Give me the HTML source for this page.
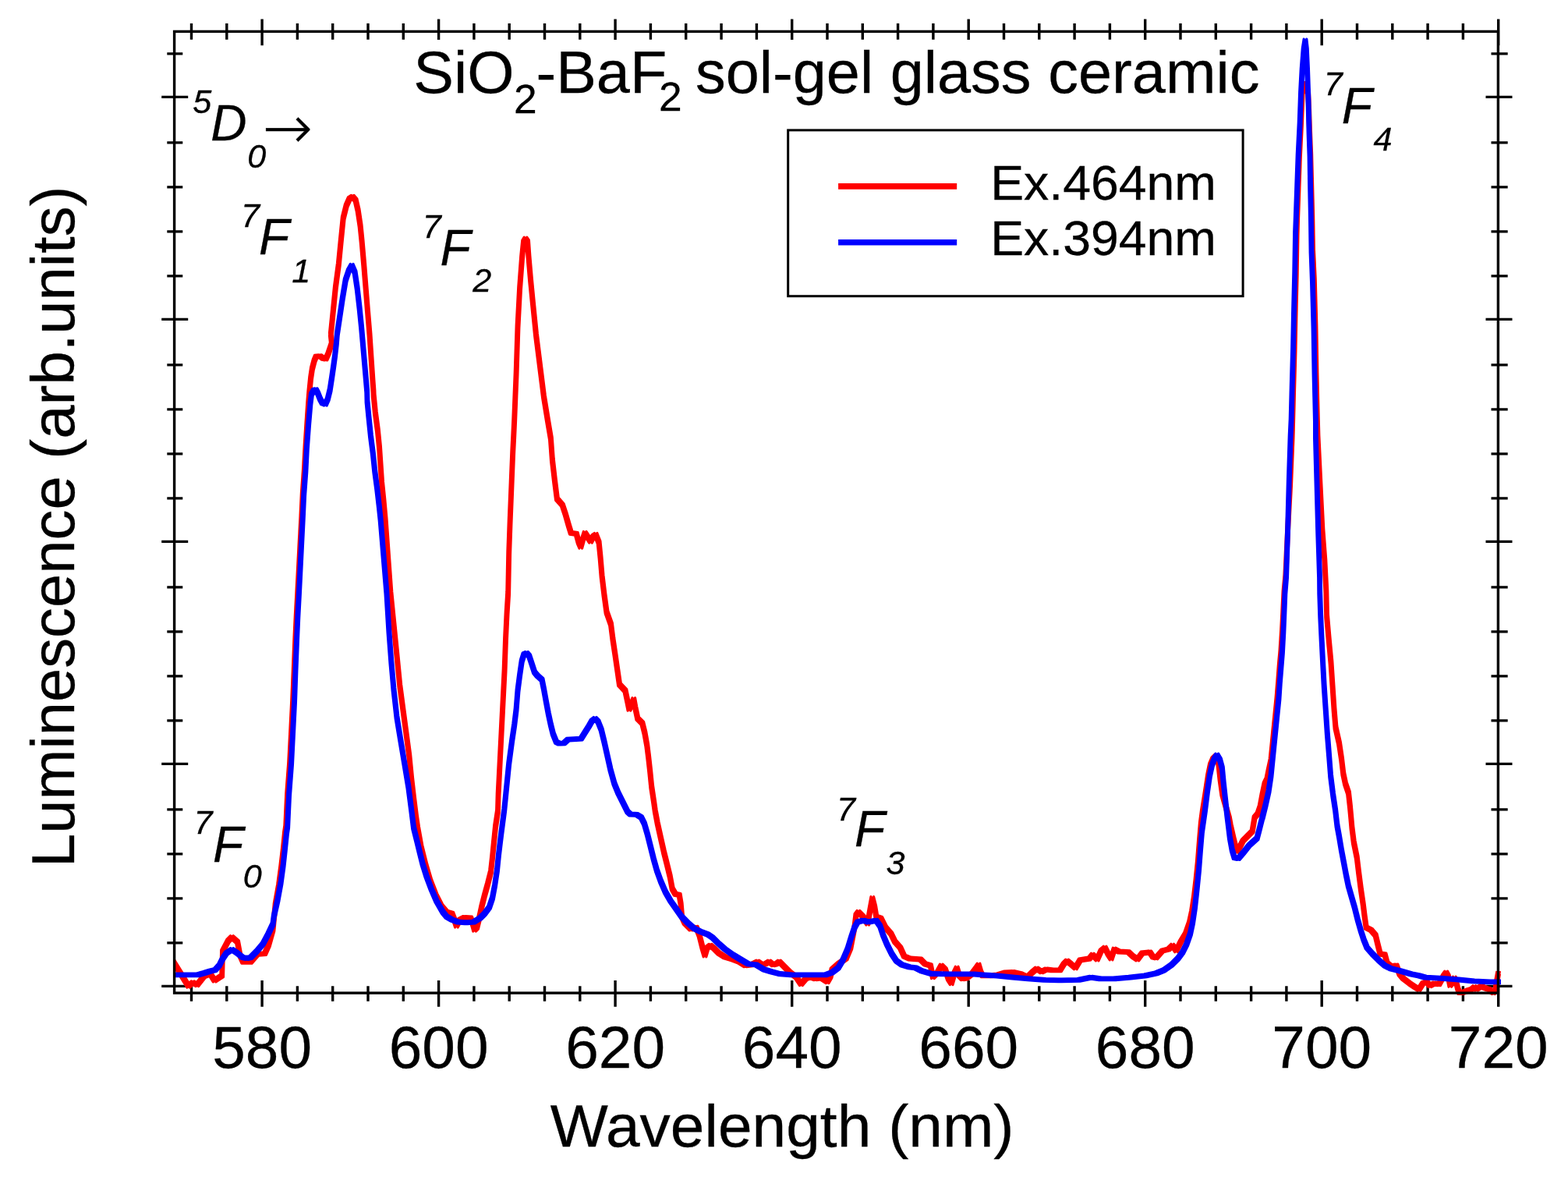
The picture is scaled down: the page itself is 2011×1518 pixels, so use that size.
<!DOCTYPE html>
<html lang="en"><head><meta charset="utf-8"><title>Luminescence spectra</title>
<style>html,body{margin:0;padding:0;background:#fff}body{width:2011px;height:1518px;overflow:hidden}svg{display:block}text{font-family:"Liberation Sans",sans-serif;fill:#000;stroke:#000;stroke-width:0.3px}.it{font-style:italic}.sym{font-family:"DejaVu Sans Light","DejaVu Sans","Liberation Sans",sans-serif;font-weight:200;font-style:normal;stroke-width:0.5px}</style></head><body>
<svg width="2011" height="1518" viewBox="0 0 2011 1518">
<rect x="0" y="0" width="2011" height="1518" fill="#fff"/>
<defs><clipPath id="clip"><rect x="222.5" y="40" width="1702.5" height="1236.7"/></clipPath></defs>
<path d="M245.5,29.9 V50.8 M245.5,1264.2 V1283.8 M290.8,29.9 V50.8 M290.8,1264.2 V1283.8 M336.1,24.5 V58.2 M336.1,1257.0 V1290.7 M381.4,29.9 V50.8 M381.4,1264.2 V1283.8 M426.7,29.9 V50.8 M426.7,1264.2 V1283.8 M472.0,29.9 V50.8 M472.0,1264.2 V1283.8 M517.3,29.9 V50.8 M517.3,1264.2 V1283.8 M562.6,24.5 V58.2 M562.6,1257.0 V1290.7 M607.9,29.9 V50.8 M607.9,1264.2 V1283.8 M653.2,29.9 V50.8 M653.2,1264.2 V1283.8 M698.5,29.9 V50.8 M698.5,1264.2 V1283.8 M743.8,29.9 V50.8 M743.8,1264.2 V1283.8 M789.1,24.5 V58.2 M789.1,1257.0 V1290.7 M834.4,29.9 V50.8 M834.4,1264.2 V1283.8 M879.7,29.9 V50.8 M879.7,1264.2 V1283.8 M925.1,29.9 V50.8 M925.1,1264.2 V1283.8 M970.4,29.9 V50.8 M970.4,1264.2 V1283.8 M1015.7,24.5 V58.2 M1015.7,1257.0 V1290.7 M1061.0,29.9 V50.8 M1061.0,1264.2 V1283.8 M1106.3,29.9 V50.8 M1106.3,1264.2 V1283.8 M1151.6,29.9 V50.8 M1151.6,1264.2 V1283.8 M1196.9,29.9 V50.8 M1196.9,1264.2 V1283.8 M1242.2,24.5 V58.2 M1242.2,1257.0 V1290.7 M1287.5,29.9 V50.8 M1287.5,1264.2 V1283.8 M1332.8,29.9 V50.8 M1332.8,1264.2 V1283.8 M1378.1,29.9 V50.8 M1378.1,1264.2 V1283.8 M1423.4,29.9 V50.8 M1423.4,1264.2 V1283.8 M1468.7,24.5 V58.2 M1468.7,1257.0 V1290.7 M1514.0,29.9 V50.8 M1514.0,1264.2 V1283.8 M1559.3,29.9 V50.8 M1559.3,1264.2 V1283.8 M1604.6,29.9 V50.8 M1604.6,1264.2 V1283.8 M1649.9,29.9 V50.8 M1649.9,1264.2 V1283.8 M1695.2,24.5 V58.2 M1695.2,1257.0 V1290.7 M1740.5,29.9 V50.8 M1740.5,1264.2 V1283.8 M1785.8,29.9 V50.8 M1785.8,1264.2 V1283.8 M1831.1,29.9 V50.8 M1831.1,1264.2 V1283.8 M1876.4,29.9 V50.8 M1876.4,1264.2 V1283.8 M1921.7,24.5 V58.2 M1921.7,1257.0 V1290.7 M207.2,1264.4 H241.2 M1905.5,1264.4 H1939.5 M214.3,1208.9 H234.3 M1912.5,1208.9 H1933.7 M214.3,1151.9 H234.3 M1912.5,1151.9 H1933.7 M214.3,1094.9 H234.3 M1912.5,1094.9 H1933.7 M214.3,1037.9 H234.3 M1912.5,1037.9 H1933.7 M207.2,979.4 H241.2 M1905.5,979.4 H1939.5 M214.3,923.9 H234.3 M1912.5,923.9 H1933.7 M214.3,866.9 H234.3 M1912.5,866.9 H1933.7 M214.3,809.9 H234.3 M1912.5,809.9 H1933.7 M214.3,752.9 H234.3 M1912.5,752.9 H1933.7 M207.2,694.4 H241.2 M1905.5,694.4 H1939.5 M214.3,638.9 H234.3 M1912.5,638.9 H1933.7 M214.3,581.9 H234.3 M1912.5,581.9 H1933.7 M214.3,524.9 H234.3 M1912.5,524.9 H1933.7 M214.3,467.9 H234.3 M1912.5,467.9 H1933.7 M207.2,409.4 H241.2 M1905.5,409.4 H1939.5 M214.3,353.9 H234.3 M1912.5,353.9 H1933.7 M214.3,296.9 H234.3 M1912.5,296.9 H1933.7 M214.3,239.9 H234.3 M1912.5,239.9 H1933.7 M214.3,182.9 H234.3 M1912.5,182.9 H1933.7 M207.2,124.4 H241.2 M1905.5,124.4 H1939.5 M214.3,68.9 H234.3 M1912.5,68.9 H1933.7" stroke="#000" stroke-width="3.4" fill="none"/>
<rect x="526" y="51" width="1094" height="98" fill="#fff"/>
<g clip-path="url(#clip)" fill="none" stroke-linejoin="round" stroke-linecap="square" stroke-width="3.2">
<path stroke="#ff0000" d="M221.8,1232.5 225.4,1238.1 241.7,1264.3 247.3,1259.6 252.9,1262.7 261.6,1251.6 269.6,1248.4 275.1,1257.2 284.7,1250.8 285.5,1219.8 292.6,1206.3 297.4,1201.5 304.6,1207.8 307.8,1224.6 311.7,1233.3 321.3,1233.3 330.0,1223.4 339.6,1222.6 344.4,1211.8 350.0,1191.9 353.2,1159.5 357.5,1135.6 360.7,1111.7 363.5,1087.8 365.5,1068.0 366.7,1060.0 368.6,1018.6 371.6,978.8 373.6,939.0 375.6,899.2 377.2,859.5 378.8,819.7 380.2,789.8 381.8,760.0 386.7,666.0 388.2,633.9 390.3,604.1 391.9,574.3 393.8,544.4 395.6,517.6 396.8,502.7 398.6,484.8 400.4,472.8 403.1,462.4 405.3,457.2 410.6,456.7 414.3,459.4 418.0,460.1 421.0,453.4 424.0,444.5 425.5,440.0 424.3,428.7 427.3,398.9 430.3,369.1 434.3,339.2 437.2,309.4 440.2,279.6 444.2,263.6 448.2,254.7 452.2,252.1 456.1,256.7 459.1,269.6 462.1,289.5 464.1,309.4 466.7,339.2 469.1,369.1 471.5,398.9 474.0,428.7 476.0,458.6 478.0,488.4 479.0,501.9 479.2,507.1 481.4,529.5 484.4,551.9 486.6,574.3 488.1,596.6 489.6,619.0 491.9,641.4 494.1,666.0 500.9,760.0 504.9,799.8 508.9,839.6 512.8,879.3 516.8,909.2 520.8,939.0 524.8,968.9 527.7,998.7 530.7,1024.5 533.7,1048.4 535.7,1061.9 540.0,1085.7 546.0,1109.6 551.9,1129.5 558.9,1147.4 565.9,1161.3 572.8,1169.3 579.8,1171.3 582.8,1179.2 585.4,1187.2 589.7,1179.2 595.7,1176.3 603.6,1176.8 606.6,1185.2 608.6,1192.2 611.6,1189.2 614.6,1177.2 617.6,1163.3 621.6,1147.4 625.5,1133.5 629.5,1117.6 631.5,1099.7 633.5,1079.8 635.5,1059.9 638.5,1040.0 639.1,1018.6 641.1,978.8 643.1,939.0 645.1,899.2 647.1,859.5 648.5,819.7 650.1,785.9 651.7,760.0 652.7,709.2 654.1,669.4 656.1,619.7 657.7,579.9 658.7,560.0 659.7,538.6 662.1,478.9 664.0,419.2 666.6,369.5 669.6,329.7 671.6,309.8 674.0,305.9 676.6,309.8 678.0,329.7 680.6,359.6 683.5,389.4 687.5,429.2 692.5,469.0 697.5,508.7 702.4,538.6 706.4,562.2 708.4,589.8 711.4,615.7 714.4,639.6 721.3,647.5 725.3,659.5 729.3,673.4 732.3,683.3 739.2,684.3 742.2,695.3 744.8,701.2 747.6,691.3 750.2,683.3 754.2,689.3 757.5,694.3 761.1,687.3 764.1,685.3 768.1,695.3 770.1,715.1 772.1,739.0 775.0,762.9 778.0,784.8 783.5,800.3 786.0,819.9 789.0,839.8 791.9,859.7 794.5,877.6 801.9,885.5 804.9,899.5 806.9,909.4 809.8,903.4 812.8,896.5 814.8,907.4 817.8,921.3 823.8,927.3 826.8,939.2 829.7,955.1 831.7,971.1 833.7,989.0 835.7,1008.9 838.7,1028.7 840.3,1040.0 843.3,1055.9 847.3,1073.8 851.3,1091.7 855.3,1107.6 859.2,1123.5 862.2,1139.5 866.2,1146.4 871.2,1147.4 873.2,1159.3 874.6,1175.3 878.1,1183.2 886.1,1191.2 893.1,1189.2 897.0,1199.1 901.0,1215.0 904.0,1225.0 907.0,1215.0 911.0,1212.1 915.9,1216.0 921.9,1222.0 929.9,1227.0 939.8,1230.0 947.7,1232.9 955.7,1237.9 963.6,1236.9 971.6,1232.9 977.6,1236.9 981.6,1235.9 986.5,1232.9 991.5,1236.9 995.5,1235.9 999.5,1232.9 1005.4,1238.9 1013.4,1246.9 1021.3,1252.8 1027.3,1261.8 1033.3,1254.8 1039.2,1252.8 1045.2,1254.8 1053.2,1253.8 1061.1,1258.8 1065.1,1251.8 1067.1,1242.9 1075.0,1235.9 1085.0,1229.0 1090.9,1215.0 1095.9,1189.2 1097.9,1173.3 1100.9,1169.3 1106.9,1175.3 1112.8,1184.2 1115.8,1167.3 1118.8,1151.4 1121.8,1163.3 1123.8,1175.3 1129.7,1177.2 1135.7,1189.2 1142.7,1197.1 1147.6,1207.1 1154.6,1215.0 1159.6,1226.0 1166.5,1229.0 1180.5,1230.0 1186.4,1235.9 1193.4,1237.9 1196.4,1252.8 1202.3,1246.9 1207.3,1237.9 1212.3,1242.9 1216.3,1254.8 1220.2,1260.8 1224.2,1246.9 1227.2,1240.9 1230.2,1250.8 1234.2,1254.8 1240.1,1253.8 1246.1,1248.9 1252.1,1240.9 1255.0,1236.9 1258.0,1246.9 1260.0,1250.8 1269.9,1250.8 1279.9,1249.8 1289.8,1246.9 1299.8,1246.5 1309.7,1248.9 1317.7,1252.8 1323.6,1246.9 1329.6,1241.9 1335.6,1245.9 1341.6,1242.9 1349.5,1243.9 1359.5,1243.9 1364.4,1235.9 1368.4,1231.9 1373.4,1235.9 1379.3,1240.9 1385.3,1230.9 1397.2,1229.0 1401.2,1224.0 1407.2,1230.0 1412.2,1219.0 1417.1,1215.0 1421.1,1223.0 1425.1,1229.0 1429.1,1217.0 1435.0,1220.0 1447.0,1220.6 1452.9,1226.0 1458.9,1230.0 1464.9,1222.0 1474.8,1221.0 1478.8,1227.0 1482.8,1228.0 1490.7,1219.0 1498.7,1217.0 1503.7,1212.1 1508.6,1219.0 1514.6,1207.1 1520.6,1197.1 1525.5,1183.2 1528.5,1169.3 1531.3,1151.4 1533.9,1129.5 1536.3,1105.6 1538.3,1079.8 1540.3,1055.9 1542.4,1040.0 1546.5,1014.6 1549.5,994.7 1552.4,980.8 1555.8,972.8 1559.8,968.9 1562.8,978.8 1565.0,998.7 1567.8,1018.6 1572.3,1034.5 1576.3,1048.4 1578.3,1058.9 1582.2,1075.8 1586.2,1091.7 1590.2,1085.7 1594.2,1077.8 1600.1,1071.8 1606.1,1065.9 1609.1,1048.0 1613.1,1043.4 1616.1,1034.5 1619.1,1018.6 1622.1,1004.7 1625.0,998.7 1627.0,988.7 1630.0,974.8 1632.0,954.9 1634.0,935.0 1636.0,915.1 1638.0,895.3 1639.6,875.4 1641.1,855.5 1642.9,835.6 1644.5,809.7 1645.7,785.9 1646.9,760.0 1648.8,739.0 1651.6,679.3 1654.7,619.7 1657.1,560.0 1657.7,538.7 1658.7,498.9 1660.1,449.2 1661.1,399.5 1662.3,349.7 1663.1,300.0 1663.7,278.6 1665.1,238.8 1666.5,199.0 1668.5,159.2 1670.1,119.5 1671.9,107.5 1675.0,107.5 1677.6,119.5 1678.6,139.3 1679.6,169.2 1680.8,199.0 1681.8,238.8 1682.8,278.6 1683.6,321.9 1685.4,359.7 1687.0,419.3 1688.0,479.0 1689.4,538.7 1690.0,560.0 1692.9,619.7 1695.9,679.3 1698.9,719.1 1700.9,758.9 1701.6,789.8 1704.2,819.7 1707.0,849.5 1709.0,879.3 1711.0,909.2 1713.0,933.0 1717.5,952.9 1720.5,972.8 1722.9,992.7 1725.5,1004.7 1729.5,1016.6 1731.5,1034.5 1732.8,1048.4 1733.9,1060.9 1736.3,1079.8 1740.3,1099.7 1742.7,1119.6 1745.3,1139.5 1748.2,1159.3 1750.2,1175.3 1752.2,1189.2 1758.2,1192.2 1764.2,1199.1 1767.1,1211.1 1770.1,1223.0 1776.1,1224.0 1779.1,1234.9 1784.0,1238.9 1791.0,1237.9 1795.0,1248.9 1800.0,1254.8 1807.9,1260.8 1813.9,1264.8 1819.9,1268.7 1824.8,1260.8 1829.8,1258.8 1833.8,1263.8 1839.7,1260.8 1845.7,1261.8 1851.7,1250.8 1854.7,1246.9 1857.4,1251.6 1859.8,1263.5 1862.9,1259.6 1865.3,1254.0 1867.7,1259.6 1869.7,1267.5 1871.7,1272.7 1876.5,1272.3 1882.8,1269.9 1887.6,1268.3 1890.8,1265.5 1893.6,1268.3 1896.7,1266.3 1900.3,1264.3 1903.5,1266.3 1906.7,1267.5 1909.9,1268.3 1913.1,1271.5 1915.4,1272.7 1917.8,1269.1 1919.4,1259.6 1921.4,1248.4 M223.6,1234.3 227.2,1239.9 243.5,1266.1 249.1,1261.4 254.7,1264.5 263.4,1253.4 271.4,1250.2 276.9,1259.0 286.5,1252.6 287.3,1221.6 294.4,1208.1 299.2,1203.3 306.4,1209.6 309.6,1226.4 313.5,1235.1 323.1,1235.1 331.8,1225.2 341.4,1224.4 346.2,1213.6 351.8,1193.7 355.0,1161.3 359.3,1137.4 362.5,1113.5 365.3,1089.6 367.3,1069.8 368.5,1061.8 370.4,1020.4 373.4,980.6 375.4,940.8 377.4,901.0 379.0,861.3 380.6,821.5 382.0,791.6 383.6,761.8 388.5,667.8 390.0,635.7 392.1,605.9 393.7,576.1 395.6,546.2 397.4,519.4 398.6,504.5 400.4,486.6 402.2,474.6 404.9,464.2 407.1,459.0 412.4,458.5 416.1,461.2 419.8,461.9 422.8,455.2 425.8,446.3 427.3,441.8 426.1,430.5 429.1,400.7 432.1,370.9 436.1,341.0 439.0,311.2 442.0,281.4 446.0,265.4 450.0,256.5 454.0,253.9 457.9,258.5 460.9,271.4 463.9,291.3 465.9,311.2 468.5,341.0 470.9,370.9 473.3,400.7 475.8,430.5 477.8,460.4 479.8,490.2 480.8,503.7 481.0,508.9 483.2,531.3 486.2,553.7 488.4,576.1 489.9,598.4 491.4,620.8 493.7,643.2 495.9,667.8 502.7,761.8 506.7,801.6 510.7,841.4 514.6,881.1 518.6,911.0 522.6,940.8 526.6,970.7 529.5,1000.5 532.5,1026.3 535.5,1050.2 537.5,1063.7 541.8,1087.5 547.8,1111.4 553.7,1131.3 560.7,1149.2 567.7,1163.1 574.6,1171.1 581.6,1173.1 584.6,1181.0 587.2,1189.0 591.5,1181.0 597.5,1178.1 605.4,1178.6 608.4,1187.0 610.4,1194.0 613.4,1191.0 616.4,1179.0 619.4,1165.1 623.4,1149.2 627.3,1135.3 631.3,1119.4 633.3,1101.5 635.3,1081.6 637.3,1061.7 640.3,1041.8 640.9,1020.4 642.9,980.6 644.9,940.8 646.9,901.0 648.9,861.3 650.3,821.5 651.9,787.7 653.5,761.8 654.5,711.0 655.9,671.2 657.9,621.5 659.5,581.7 660.5,561.8 661.5,540.4 663.9,480.7 665.8,421.0 668.4,371.3 671.4,331.5 673.4,311.6 675.8,307.7 678.4,311.6 679.8,331.5 682.4,361.4 685.3,391.2 689.3,431.0 694.3,470.8 699.3,510.5 704.2,540.4 708.2,564.0 710.2,591.6 713.2,617.5 716.2,641.4 723.1,649.3 727.1,661.3 731.1,675.2 734.1,685.1 741.0,686.1 744.0,697.1 746.6,703.0 749.4,693.1 752.0,685.1 756.0,691.1 759.3,696.1 762.9,689.1 765.9,687.1 769.9,697.1 771.9,716.9 773.9,740.8 776.8,764.7 779.8,786.6 785.3,802.1 787.8,821.7 790.8,841.6 793.7,861.5 796.3,879.4 803.7,887.3 806.7,901.3 808.7,911.2 811.6,905.2 814.6,898.3 816.6,909.2 819.6,923.1 825.6,929.1 828.6,941.0 831.5,956.9 833.5,972.9 835.5,990.8 837.5,1010.7 840.5,1030.5 842.1,1041.8 845.1,1057.7 849.1,1075.6 853.1,1093.5 857.1,1109.4 861.0,1125.3 864.0,1141.3 868.0,1148.2 873.0,1149.2 875.0,1161.1 876.4,1177.1 879.9,1185.0 887.9,1193.0 894.9,1191.0 898.8,1200.9 902.8,1216.8 905.8,1226.8 908.8,1216.8 912.8,1213.9 917.7,1217.8 923.7,1223.8 931.7,1228.8 941.6,1231.8 949.5,1234.7 957.5,1239.7 965.4,1238.7 973.4,1234.7 979.4,1238.7 983.4,1237.7 988.3,1234.7 993.3,1238.7 997.3,1237.7 1001.3,1234.7 1007.2,1240.7 1015.2,1248.7 1023.1,1254.6 1029.1,1263.6 1035.1,1256.6 1041.0,1254.6 1047.0,1256.6 1055.0,1255.6 1062.9,1260.6 1066.9,1253.6 1068.9,1244.7 1076.8,1237.7 1086.8,1230.8 1092.7,1216.8 1097.7,1191.0 1099.7,1175.1 1102.7,1171.1 1108.7,1177.1 1114.6,1186.0 1117.6,1169.1 1120.6,1153.2 1123.6,1165.1 1125.6,1177.1 1131.5,1179.0 1137.5,1191.0 1144.5,1198.9 1149.4,1208.9 1156.4,1216.8 1161.4,1227.8 1168.3,1230.8 1182.3,1231.8 1188.2,1237.7 1195.2,1239.7 1198.2,1254.6 1204.1,1248.7 1209.1,1239.7 1214.1,1244.7 1218.1,1256.6 1222.0,1262.6 1226.0,1248.7 1229.0,1242.7 1232.0,1252.6 1236.0,1256.6 1241.9,1255.6 1247.9,1250.7 1253.9,1242.7 1256.8,1238.7 1259.8,1248.7 1261.8,1252.6 1271.7,1252.6 1281.7,1251.6 1291.6,1248.7 1301.6,1248.3 1311.5,1250.7 1319.5,1254.6 1325.4,1248.7 1331.4,1243.7 1337.4,1247.7 1343.4,1244.7 1351.3,1245.7 1361.3,1245.7 1366.2,1237.7 1370.2,1233.7 1375.2,1237.7 1381.1,1242.7 1387.1,1232.7 1399.0,1230.8 1403.0,1225.8 1409.0,1231.8 1414.0,1220.8 1418.9,1216.8 1422.9,1224.8 1426.9,1230.8 1430.9,1218.8 1436.8,1221.8 1448.8,1222.4 1454.7,1227.8 1460.7,1231.8 1466.7,1223.8 1476.6,1222.8 1480.6,1228.8 1484.6,1229.8 1492.5,1220.8 1500.5,1218.8 1505.5,1213.9 1510.4,1220.8 1516.4,1208.9 1522.4,1198.9 1527.3,1185.0 1530.3,1171.1 1533.1,1153.2 1535.7,1131.3 1538.1,1107.4 1540.1,1081.6 1542.1,1057.7 1544.2,1041.8 1548.3,1016.4 1551.3,996.5 1554.2,982.6 1557.6,974.6 1561.6,970.7 1564.6,980.6 1566.8,1000.5 1569.6,1020.4 1574.1,1036.3 1578.1,1050.2 1580.1,1060.7 1584.0,1077.6 1588.0,1093.5 1592.0,1087.5 1596.0,1079.6 1601.9,1073.6 1607.9,1067.7 1610.9,1049.8 1614.9,1045.2 1617.9,1036.3 1620.9,1020.4 1623.9,1006.5 1626.8,1000.5 1628.8,990.5 1631.8,976.6 1633.8,956.7 1635.8,936.8 1637.8,916.9 1639.8,897.1 1641.4,877.2 1642.9,857.3 1644.7,837.4 1646.3,811.5 1647.5,787.7 1648.7,761.8 1650.6,740.8 1653.4,681.1 1656.5,621.5 1658.9,561.8 1659.5,540.5 1660.5,500.7 1661.9,451.0 1662.9,401.3 1664.1,351.5 1664.9,301.8 1665.5,280.4 1666.9,240.6 1668.3,200.8 1670.3,161.0 1671.9,121.3 1673.7,109.3 1676.8,109.3 1679.4,121.3 1680.4,141.1 1681.4,171.0 1682.6,200.8 1683.6,240.6 1684.6,280.4 1685.4,323.7 1687.2,361.5 1688.8,421.1 1689.8,480.8 1691.2,540.5 1691.8,561.8 1694.7,621.5 1697.7,681.1 1700.7,720.9 1702.7,760.7 1703.4,791.6 1706.0,821.5 1708.8,851.3 1710.8,881.1 1712.8,911.0 1714.8,934.8 1719.3,954.7 1722.3,974.6 1724.7,994.5 1727.3,1006.5 1731.3,1018.4 1733.3,1036.3 1734.6,1050.2 1735.7,1062.7 1738.1,1081.6 1742.1,1101.5 1744.5,1121.4 1747.1,1141.3 1750.0,1161.1 1752.0,1177.1 1754.0,1191.0 1760.0,1194.0 1766.0,1200.9 1768.9,1212.9 1771.9,1224.8 1777.9,1225.8 1780.9,1236.7 1785.8,1240.7 1792.8,1239.7 1796.8,1250.7 1801.8,1256.6 1809.7,1262.6 1815.7,1266.6 1821.7,1270.5 1826.6,1262.6 1831.6,1260.6 1835.6,1265.6 1841.5,1262.6 1847.5,1263.6 1853.5,1252.6 1856.5,1248.7 1859.2,1253.4 1861.6,1265.3 1864.7,1261.4 1867.1,1255.8 1869.5,1261.4 1871.5,1269.3 1873.5,1274.5 1878.3,1274.1 1884.6,1271.7 1889.4,1270.1 1892.6,1267.3 1895.4,1270.1 1898.5,1268.1 1902.1,1266.1 1905.3,1268.1 1908.5,1269.3 1911.7,1270.1 1914.9,1273.3 1917.2,1274.5 1919.6,1270.9 1921.2,1261.4 1923.2,1250.2 M223.6,1230.7 227.2,1236.3 243.5,1262.5 249.1,1257.8 254.7,1260.9 263.4,1249.8 271.4,1246.6 276.9,1255.4 286.5,1249.0 287.3,1218.0 294.4,1204.5 299.2,1199.7 306.4,1206.0 309.6,1222.8 313.5,1231.5 323.1,1231.5 331.8,1221.6 341.4,1220.8 346.2,1210.0 351.8,1190.1 355.0,1157.7 359.3,1133.8 362.5,1109.9 365.3,1086.0 367.3,1066.2 368.5,1058.2 370.4,1016.8 373.4,977.0 375.4,937.2 377.4,897.4 379.0,857.7 380.6,817.9 382.0,788.0 383.6,758.2 388.5,664.2 390.0,632.1 392.1,602.3 393.7,572.5 395.6,542.6 397.4,515.8 398.6,500.9 400.4,483.0 402.2,471.0 404.9,460.6 407.1,455.4 412.4,454.9 416.1,457.6 419.8,458.3 422.8,451.6 425.8,442.7 427.3,438.2 426.1,426.9 429.1,397.1 432.1,367.3 436.1,337.4 439.0,307.6 442.0,277.8 446.0,261.8 450.0,252.9 454.0,250.3 457.9,254.9 460.9,267.8 463.9,287.7 465.9,307.6 468.5,337.4 470.9,367.3 473.3,397.1 475.8,426.9 477.8,456.8 479.8,486.6 480.8,500.1 481.0,505.3 483.2,527.7 486.2,550.1 488.4,572.5 489.9,594.8 491.4,617.2 493.7,639.6 495.9,664.2 502.7,758.2 506.7,798.0 510.7,837.8 514.6,877.5 518.6,907.4 522.6,937.2 526.6,967.1 529.5,996.9 532.5,1022.7 535.5,1046.6 537.5,1060.1 541.8,1083.9 547.8,1107.8 553.7,1127.7 560.7,1145.6 567.7,1159.5 574.6,1167.5 581.6,1169.5 584.6,1177.4 587.2,1185.4 591.5,1177.4 597.5,1174.5 605.4,1175.0 608.4,1183.4 610.4,1190.4 613.4,1187.4 616.4,1175.4 619.4,1161.5 623.4,1145.6 627.3,1131.7 631.3,1115.8 633.3,1097.9 635.3,1078.0 637.3,1058.1 640.3,1038.2 640.9,1016.8 642.9,977.0 644.9,937.2 646.9,897.4 648.9,857.7 650.3,817.9 651.9,784.1 653.5,758.2 654.5,707.4 655.9,667.6 657.9,617.9 659.5,578.1 660.5,558.2 661.5,536.8 663.9,477.1 665.8,417.4 668.4,367.7 671.4,327.9 673.4,308.0 675.8,304.1 678.4,308.0 679.8,327.9 682.4,357.8 685.3,387.6 689.3,427.4 694.3,467.2 699.3,506.9 704.2,536.8 708.2,560.4 710.2,588.0 713.2,613.9 716.2,637.8 723.1,645.7 727.1,657.7 731.1,671.6 734.1,681.5 741.0,682.5 744.0,693.5 746.6,699.4 749.4,689.5 752.0,681.5 756.0,687.5 759.3,692.5 762.9,685.5 765.9,683.5 769.9,693.5 771.9,713.3 773.9,737.2 776.8,761.1 779.8,783.0 785.3,798.5 787.8,818.1 790.8,838.0 793.7,857.9 796.3,875.8 803.7,883.7 806.7,897.7 808.7,907.6 811.6,901.6 814.6,894.7 816.6,905.6 819.6,919.5 825.6,925.5 828.6,937.4 831.5,953.3 833.5,969.3 835.5,987.2 837.5,1007.1 840.5,1026.9 842.1,1038.2 845.1,1054.1 849.1,1072.0 853.1,1089.9 857.1,1105.8 861.0,1121.7 864.0,1137.7 868.0,1144.6 873.0,1145.6 875.0,1157.5 876.4,1173.5 879.9,1181.4 887.9,1189.4 894.9,1187.4 898.8,1197.3 902.8,1213.2 905.8,1223.2 908.8,1213.2 912.8,1210.3 917.7,1214.2 923.7,1220.2 931.7,1225.2 941.6,1228.2 949.5,1231.1 957.5,1236.1 965.4,1235.1 973.4,1231.1 979.4,1235.1 983.4,1234.1 988.3,1231.1 993.3,1235.1 997.3,1234.1 1001.3,1231.1 1007.2,1237.1 1015.2,1245.1 1023.1,1251.0 1029.1,1260.0 1035.1,1253.0 1041.0,1251.0 1047.0,1253.0 1055.0,1252.0 1062.9,1257.0 1066.9,1250.0 1068.9,1241.1 1076.8,1234.1 1086.8,1227.2 1092.7,1213.2 1097.7,1187.4 1099.7,1171.5 1102.7,1167.5 1108.7,1173.5 1114.6,1182.4 1117.6,1165.5 1120.6,1149.6 1123.6,1161.5 1125.6,1173.5 1131.5,1175.4 1137.5,1187.4 1144.5,1195.3 1149.4,1205.3 1156.4,1213.2 1161.4,1224.2 1168.3,1227.2 1182.3,1228.2 1188.2,1234.1 1195.2,1236.1 1198.2,1251.0 1204.1,1245.1 1209.1,1236.1 1214.1,1241.1 1218.1,1253.0 1222.0,1259.0 1226.0,1245.1 1229.0,1239.1 1232.0,1249.0 1236.0,1253.0 1241.9,1252.0 1247.9,1247.1 1253.9,1239.1 1256.8,1235.1 1259.8,1245.1 1261.8,1249.0 1271.7,1249.0 1281.7,1248.0 1291.6,1245.1 1301.6,1244.7 1311.5,1247.1 1319.5,1251.0 1325.4,1245.1 1331.4,1240.1 1337.4,1244.1 1343.4,1241.1 1351.3,1242.1 1361.3,1242.1 1366.2,1234.1 1370.2,1230.1 1375.2,1234.1 1381.1,1239.1 1387.1,1229.1 1399.0,1227.2 1403.0,1222.2 1409.0,1228.2 1414.0,1217.2 1418.9,1213.2 1422.9,1221.2 1426.9,1227.2 1430.9,1215.2 1436.8,1218.2 1448.8,1218.8 1454.7,1224.2 1460.7,1228.2 1466.7,1220.2 1476.6,1219.2 1480.6,1225.2 1484.6,1226.2 1492.5,1217.2 1500.5,1215.2 1505.5,1210.3 1510.4,1217.2 1516.4,1205.3 1522.4,1195.3 1527.3,1181.4 1530.3,1167.5 1533.1,1149.6 1535.7,1127.7 1538.1,1103.8 1540.1,1078.0 1542.1,1054.1 1544.2,1038.2 1548.3,1012.8 1551.3,992.9 1554.2,979.0 1557.6,971.0 1561.6,967.1 1564.6,977.0 1566.8,996.9 1569.6,1016.8 1574.1,1032.7 1578.1,1046.6 1580.1,1057.1 1584.0,1074.0 1588.0,1089.9 1592.0,1083.9 1596.0,1076.0 1601.9,1070.0 1607.9,1064.1 1610.9,1046.2 1614.9,1041.6 1617.9,1032.7 1620.9,1016.8 1623.9,1002.9 1626.8,996.9 1628.8,986.9 1631.8,973.0 1633.8,953.1 1635.8,933.2 1637.8,913.3 1639.8,893.5 1641.4,873.6 1642.9,853.7 1644.7,833.8 1646.3,807.9 1647.5,784.1 1648.7,758.2 1650.6,737.2 1653.4,677.5 1656.5,617.9 1658.9,558.2 1659.5,536.9 1660.5,497.1 1661.9,447.4 1662.9,397.7 1664.1,347.9 1664.9,298.2 1665.5,276.8 1666.9,237.0 1668.3,197.2 1670.3,157.4 1671.9,117.7 1673.7,105.7 1676.8,105.7 1679.4,117.7 1680.4,137.5 1681.4,167.4 1682.6,197.2 1683.6,237.0 1684.6,276.8 1685.4,320.1 1687.2,357.9 1688.8,417.5 1689.8,477.2 1691.2,536.9 1691.8,558.2 1694.7,617.9 1697.7,677.5 1700.7,717.3 1702.7,757.1 1703.4,788.0 1706.0,817.9 1708.8,847.7 1710.8,877.5 1712.8,907.4 1714.8,931.2 1719.3,951.1 1722.3,971.0 1724.7,990.9 1727.3,1002.9 1731.3,1014.8 1733.3,1032.7 1734.6,1046.6 1735.7,1059.1 1738.1,1078.0 1742.1,1097.9 1744.5,1117.8 1747.1,1137.7 1750.0,1157.5 1752.0,1173.5 1754.0,1187.4 1760.0,1190.4 1766.0,1197.3 1768.9,1209.3 1771.9,1221.2 1777.9,1222.2 1780.9,1233.1 1785.8,1237.1 1792.8,1236.1 1796.8,1247.1 1801.8,1253.0 1809.7,1259.0 1815.7,1263.0 1821.7,1266.9 1826.6,1259.0 1831.6,1257.0 1835.6,1262.0 1841.5,1259.0 1847.5,1260.0 1853.5,1249.0 1856.5,1245.1 1859.2,1249.8 1861.6,1261.7 1864.7,1257.8 1867.1,1252.2 1869.5,1257.8 1871.5,1265.7 1873.5,1270.9 1878.3,1270.5 1884.6,1268.1 1889.4,1266.5 1892.6,1263.7 1895.4,1266.5 1898.5,1264.5 1902.1,1262.5 1905.3,1264.5 1908.5,1265.7 1911.7,1266.5 1914.9,1269.7 1917.2,1270.9 1919.6,1267.3 1921.2,1257.8 1923.2,1246.6 M220.0,1234.3 223.6,1239.9 239.9,1266.1 245.5,1261.4 251.1,1264.5 259.8,1253.4 267.8,1250.2 273.3,1259.0 282.9,1252.6 283.7,1221.6 290.8,1208.1 295.6,1203.3 302.8,1209.6 306.0,1226.4 309.9,1235.1 319.5,1235.1 328.2,1225.2 337.8,1224.4 342.6,1213.6 348.2,1193.7 351.4,1161.3 355.7,1137.4 358.9,1113.5 361.7,1089.6 363.7,1069.8 364.9,1061.8 366.8,1020.4 369.8,980.6 371.8,940.8 373.8,901.0 375.4,861.3 377.0,821.5 378.4,791.6 380.0,761.8 384.9,667.8 386.4,635.7 388.5,605.9 390.1,576.1 392.0,546.2 393.8,519.4 395.0,504.5 396.8,486.6 398.6,474.6 401.3,464.2 403.5,459.0 408.8,458.5 412.5,461.2 416.2,461.9 419.2,455.2 422.2,446.3 423.7,441.8 422.5,430.5 425.5,400.7 428.5,370.9 432.5,341.0 435.4,311.2 438.4,281.4 442.4,265.4 446.4,256.5 450.4,253.9 454.3,258.5 457.3,271.4 460.3,291.3 462.3,311.2 464.9,341.0 467.3,370.9 469.7,400.7 472.2,430.5 474.2,460.4 476.2,490.2 477.2,503.7 477.4,508.9 479.6,531.3 482.6,553.7 484.8,576.1 486.3,598.4 487.8,620.8 490.1,643.2 492.3,667.8 499.1,761.8 503.1,801.6 507.1,841.4 511.0,881.1 515.0,911.0 519.0,940.8 523.0,970.7 525.9,1000.5 528.9,1026.3 531.9,1050.2 533.9,1063.7 538.2,1087.5 544.2,1111.4 550.1,1131.3 557.1,1149.2 564.1,1163.1 571.0,1171.1 578.0,1173.1 581.0,1181.0 583.6,1189.0 587.9,1181.0 593.9,1178.1 601.8,1178.6 604.8,1187.0 606.8,1194.0 609.8,1191.0 612.8,1179.0 615.8,1165.1 619.8,1149.2 623.7,1135.3 627.7,1119.4 629.7,1101.5 631.7,1081.6 633.7,1061.7 636.7,1041.8 637.3,1020.4 639.3,980.6 641.3,940.8 643.3,901.0 645.3,861.3 646.7,821.5 648.3,787.7 649.9,761.8 650.9,711.0 652.3,671.2 654.3,621.5 655.9,581.7 656.9,561.8 657.9,540.4 660.3,480.7 662.2,421.0 664.8,371.3 667.8,331.5 669.8,311.6 672.2,307.7 674.8,311.6 676.2,331.5 678.8,361.4 681.7,391.2 685.7,431.0 690.7,470.8 695.7,510.5 700.6,540.4 704.6,564.0 706.6,591.6 709.6,617.5 712.6,641.4 719.5,649.3 723.5,661.3 727.5,675.2 730.5,685.1 737.4,686.1 740.4,697.1 743.0,703.0 745.8,693.1 748.4,685.1 752.4,691.1 755.7,696.1 759.3,689.1 762.3,687.1 766.3,697.1 768.3,716.9 770.3,740.8 773.2,764.7 776.2,786.6 781.7,802.1 784.2,821.7 787.2,841.6 790.1,861.5 792.7,879.4 800.1,887.3 803.1,901.3 805.1,911.2 808.0,905.2 811.0,898.3 813.0,909.2 816.0,923.1 822.0,929.1 825.0,941.0 827.9,956.9 829.9,972.9 831.9,990.8 833.9,1010.7 836.9,1030.5 838.5,1041.8 841.5,1057.7 845.5,1075.6 849.5,1093.5 853.5,1109.4 857.4,1125.3 860.4,1141.3 864.4,1148.2 869.4,1149.2 871.4,1161.1 872.8,1177.1 876.3,1185.0 884.3,1193.0 891.3,1191.0 895.2,1200.9 899.2,1216.8 902.2,1226.8 905.2,1216.8 909.2,1213.9 914.1,1217.8 920.1,1223.8 928.1,1228.8 938.0,1231.8 945.9,1234.7 953.9,1239.7 961.8,1238.7 969.8,1234.7 975.8,1238.7 979.8,1237.7 984.7,1234.7 989.7,1238.7 993.7,1237.7 997.7,1234.7 1003.6,1240.7 1011.6,1248.7 1019.5,1254.6 1025.5,1263.6 1031.5,1256.6 1037.4,1254.6 1043.4,1256.6 1051.4,1255.6 1059.3,1260.6 1063.3,1253.6 1065.3,1244.7 1073.2,1237.7 1083.2,1230.8 1089.1,1216.8 1094.1,1191.0 1096.1,1175.1 1099.1,1171.1 1105.1,1177.1 1111.0,1186.0 1114.0,1169.1 1117.0,1153.2 1120.0,1165.1 1122.0,1177.1 1127.9,1179.0 1133.9,1191.0 1140.9,1198.9 1145.8,1208.9 1152.8,1216.8 1157.8,1227.8 1164.7,1230.8 1178.7,1231.8 1184.6,1237.7 1191.6,1239.7 1194.6,1254.6 1200.5,1248.7 1205.5,1239.7 1210.5,1244.7 1214.5,1256.6 1218.4,1262.6 1222.4,1248.7 1225.4,1242.7 1228.4,1252.6 1232.4,1256.6 1238.3,1255.6 1244.3,1250.7 1250.3,1242.7 1253.2,1238.7 1256.2,1248.7 1258.2,1252.6 1268.1,1252.6 1278.1,1251.6 1288.0,1248.7 1298.0,1248.3 1307.9,1250.7 1315.9,1254.6 1321.8,1248.7 1327.8,1243.7 1333.8,1247.7 1339.8,1244.7 1347.7,1245.7 1357.7,1245.7 1362.6,1237.7 1366.6,1233.7 1371.6,1237.7 1377.5,1242.7 1383.5,1232.7 1395.4,1230.8 1399.4,1225.8 1405.4,1231.8 1410.4,1220.8 1415.3,1216.8 1419.3,1224.8 1423.3,1230.8 1427.3,1218.8 1433.2,1221.8 1445.2,1222.4 1451.1,1227.8 1457.1,1231.8 1463.1,1223.8 1473.0,1222.8 1477.0,1228.8 1481.0,1229.8 1488.9,1220.8 1496.9,1218.8 1501.9,1213.9 1506.8,1220.8 1512.8,1208.9 1518.8,1198.9 1523.7,1185.0 1526.7,1171.1 1529.5,1153.2 1532.1,1131.3 1534.5,1107.4 1536.5,1081.6 1538.5,1057.7 1540.6,1041.8 1544.7,1016.4 1547.7,996.5 1550.6,982.6 1554.0,974.6 1558.0,970.7 1561.0,980.6 1563.2,1000.5 1566.0,1020.4 1570.5,1036.3 1574.5,1050.2 1576.5,1060.7 1580.4,1077.6 1584.4,1093.5 1588.4,1087.5 1592.4,1079.6 1598.3,1073.6 1604.3,1067.7 1607.3,1049.8 1611.3,1045.2 1614.3,1036.3 1617.3,1020.4 1620.3,1006.5 1623.2,1000.5 1625.2,990.5 1628.2,976.6 1630.2,956.7 1632.2,936.8 1634.2,916.9 1636.2,897.1 1637.8,877.2 1639.3,857.3 1641.1,837.4 1642.7,811.5 1643.9,787.7 1645.1,761.8 1647.0,740.8 1649.8,681.1 1652.9,621.5 1655.3,561.8 1655.9,540.5 1656.9,500.7 1658.3,451.0 1659.3,401.3 1660.5,351.5 1661.3,301.8 1661.9,280.4 1663.3,240.6 1664.7,200.8 1666.7,161.0 1668.3,121.3 1670.1,109.3 1673.2,109.3 1675.8,121.3 1676.8,141.1 1677.8,171.0 1679.0,200.8 1680.0,240.6 1681.0,280.4 1681.8,323.7 1683.6,361.5 1685.2,421.1 1686.2,480.8 1687.6,540.5 1688.2,561.8 1691.1,621.5 1694.1,681.1 1697.1,720.9 1699.1,760.7 1699.8,791.6 1702.4,821.5 1705.2,851.3 1707.2,881.1 1709.2,911.0 1711.2,934.8 1715.7,954.7 1718.7,974.6 1721.1,994.5 1723.7,1006.5 1727.7,1018.4 1729.7,1036.3 1731.0,1050.2 1732.1,1062.7 1734.5,1081.6 1738.5,1101.5 1740.9,1121.4 1743.5,1141.3 1746.4,1161.1 1748.4,1177.1 1750.4,1191.0 1756.4,1194.0 1762.4,1200.9 1765.3,1212.9 1768.3,1224.8 1774.3,1225.8 1777.3,1236.7 1782.2,1240.7 1789.2,1239.7 1793.2,1250.7 1798.2,1256.6 1806.1,1262.6 1812.1,1266.6 1818.1,1270.5 1823.0,1262.6 1828.0,1260.6 1832.0,1265.6 1837.9,1262.6 1843.9,1263.6 1849.9,1252.6 1852.9,1248.7 1855.6,1253.4 1858.0,1265.3 1861.1,1261.4 1863.5,1255.8 1865.9,1261.4 1867.9,1269.3 1869.9,1274.5 1874.7,1274.1 1881.0,1271.7 1885.8,1270.1 1889.0,1267.3 1891.8,1270.1 1894.9,1268.1 1898.5,1266.1 1901.7,1268.1 1904.9,1269.3 1908.1,1270.1 1911.3,1273.3 1913.6,1274.5 1916.0,1270.9 1917.6,1261.4 1919.6,1250.2 M220.0,1230.7 223.6,1236.3 239.9,1262.5 245.5,1257.8 251.1,1260.9 259.8,1249.8 267.8,1246.6 273.3,1255.4 282.9,1249.0 283.7,1218.0 290.8,1204.5 295.6,1199.7 302.8,1206.0 306.0,1222.8 309.9,1231.5 319.5,1231.5 328.2,1221.6 337.8,1220.8 342.6,1210.0 348.2,1190.1 351.4,1157.7 355.7,1133.8 358.9,1109.9 361.7,1086.0 363.7,1066.2 364.9,1058.2 366.8,1016.8 369.8,977.0 371.8,937.2 373.8,897.4 375.4,857.7 377.0,817.9 378.4,788.0 380.0,758.2 384.9,664.2 386.4,632.1 388.5,602.3 390.1,572.5 392.0,542.6 393.8,515.8 395.0,500.9 396.8,483.0 398.6,471.0 401.3,460.6 403.5,455.4 408.8,454.9 412.5,457.6 416.2,458.3 419.2,451.6 422.2,442.7 423.7,438.2 422.5,426.9 425.5,397.1 428.5,367.3 432.5,337.4 435.4,307.6 438.4,277.8 442.4,261.8 446.4,252.9 450.4,250.3 454.3,254.9 457.3,267.8 460.3,287.7 462.3,307.6 464.9,337.4 467.3,367.3 469.7,397.1 472.2,426.9 474.2,456.8 476.2,486.6 477.2,500.1 477.4,505.3 479.6,527.7 482.6,550.1 484.8,572.5 486.3,594.8 487.8,617.2 490.1,639.6 492.3,664.2 499.1,758.2 503.1,798.0 507.1,837.8 511.0,877.5 515.0,907.4 519.0,937.2 523.0,967.1 525.9,996.9 528.9,1022.7 531.9,1046.6 533.9,1060.1 538.2,1083.9 544.2,1107.8 550.1,1127.7 557.1,1145.6 564.1,1159.5 571.0,1167.5 578.0,1169.5 581.0,1177.4 583.6,1185.4 587.9,1177.4 593.9,1174.5 601.8,1175.0 604.8,1183.4 606.8,1190.4 609.8,1187.4 612.8,1175.4 615.8,1161.5 619.8,1145.6 623.7,1131.7 627.7,1115.8 629.7,1097.9 631.7,1078.0 633.7,1058.1 636.7,1038.2 637.3,1016.8 639.3,977.0 641.3,937.2 643.3,897.4 645.3,857.7 646.7,817.9 648.3,784.1 649.9,758.2 650.9,707.4 652.3,667.6 654.3,617.9 655.9,578.1 656.9,558.2 657.9,536.8 660.3,477.1 662.2,417.4 664.8,367.7 667.8,327.9 669.8,308.0 672.2,304.1 674.8,308.0 676.2,327.9 678.8,357.8 681.7,387.6 685.7,427.4 690.7,467.2 695.7,506.9 700.6,536.8 704.6,560.4 706.6,588.0 709.6,613.9 712.6,637.8 719.5,645.7 723.5,657.7 727.5,671.6 730.5,681.5 737.4,682.5 740.4,693.5 743.0,699.4 745.8,689.5 748.4,681.5 752.4,687.5 755.7,692.5 759.3,685.5 762.3,683.5 766.3,693.5 768.3,713.3 770.3,737.2 773.2,761.1 776.2,783.0 781.7,798.5 784.2,818.1 787.2,838.0 790.1,857.9 792.7,875.8 800.1,883.7 803.1,897.7 805.1,907.6 808.0,901.6 811.0,894.7 813.0,905.6 816.0,919.5 822.0,925.5 825.0,937.4 827.9,953.3 829.9,969.3 831.9,987.2 833.9,1007.1 836.9,1026.9 838.5,1038.2 841.5,1054.1 845.5,1072.0 849.5,1089.9 853.5,1105.8 857.4,1121.7 860.4,1137.7 864.4,1144.6 869.4,1145.6 871.4,1157.5 872.8,1173.5 876.3,1181.4 884.3,1189.4 891.3,1187.4 895.2,1197.3 899.2,1213.2 902.2,1223.2 905.2,1213.2 909.2,1210.3 914.1,1214.2 920.1,1220.2 928.1,1225.2 938.0,1228.2 945.9,1231.1 953.9,1236.1 961.8,1235.1 969.8,1231.1 975.8,1235.1 979.8,1234.1 984.7,1231.1 989.7,1235.1 993.7,1234.1 997.7,1231.1 1003.6,1237.1 1011.6,1245.1 1019.5,1251.0 1025.5,1260.0 1031.5,1253.0 1037.4,1251.0 1043.4,1253.0 1051.4,1252.0 1059.3,1257.0 1063.3,1250.0 1065.3,1241.1 1073.2,1234.1 1083.2,1227.2 1089.1,1213.2 1094.1,1187.4 1096.1,1171.5 1099.1,1167.5 1105.1,1173.5 1111.0,1182.4 1114.0,1165.5 1117.0,1149.6 1120.0,1161.5 1122.0,1173.5 1127.9,1175.4 1133.9,1187.4 1140.9,1195.3 1145.8,1205.3 1152.8,1213.2 1157.8,1224.2 1164.7,1227.2 1178.7,1228.2 1184.6,1234.1 1191.6,1236.1 1194.6,1251.0 1200.5,1245.1 1205.5,1236.1 1210.5,1241.1 1214.5,1253.0 1218.4,1259.0 1222.4,1245.1 1225.4,1239.1 1228.4,1249.0 1232.4,1253.0 1238.3,1252.0 1244.3,1247.1 1250.3,1239.1 1253.2,1235.1 1256.2,1245.1 1258.2,1249.0 1268.1,1249.0 1278.1,1248.0 1288.0,1245.1 1298.0,1244.7 1307.9,1247.1 1315.9,1251.0 1321.8,1245.1 1327.8,1240.1 1333.8,1244.1 1339.8,1241.1 1347.7,1242.1 1357.7,1242.1 1362.6,1234.1 1366.6,1230.1 1371.6,1234.1 1377.5,1239.1 1383.5,1229.1 1395.4,1227.2 1399.4,1222.2 1405.4,1228.2 1410.4,1217.2 1415.3,1213.2 1419.3,1221.2 1423.3,1227.2 1427.3,1215.2 1433.2,1218.2 1445.2,1218.8 1451.1,1224.2 1457.1,1228.2 1463.1,1220.2 1473.0,1219.2 1477.0,1225.2 1481.0,1226.2 1488.9,1217.2 1496.9,1215.2 1501.9,1210.3 1506.8,1217.2 1512.8,1205.3 1518.8,1195.3 1523.7,1181.4 1526.7,1167.5 1529.5,1149.6 1532.1,1127.7 1534.5,1103.8 1536.5,1078.0 1538.5,1054.1 1540.6,1038.2 1544.7,1012.8 1547.7,992.9 1550.6,979.0 1554.0,971.0 1558.0,967.1 1561.0,977.0 1563.2,996.9 1566.0,1016.8 1570.5,1032.7 1574.5,1046.6 1576.5,1057.1 1580.4,1074.0 1584.4,1089.9 1588.4,1083.9 1592.4,1076.0 1598.3,1070.0 1604.3,1064.1 1607.3,1046.2 1611.3,1041.6 1614.3,1032.7 1617.3,1016.8 1620.3,1002.9 1623.2,996.9 1625.2,986.9 1628.2,973.0 1630.2,953.1 1632.2,933.2 1634.2,913.3 1636.2,893.5 1637.8,873.6 1639.3,853.7 1641.1,833.8 1642.7,807.9 1643.9,784.1 1645.1,758.2 1647.0,737.2 1649.8,677.5 1652.9,617.9 1655.3,558.2 1655.9,536.9 1656.9,497.1 1658.3,447.4 1659.3,397.7 1660.5,347.9 1661.3,298.2 1661.9,276.8 1663.3,237.0 1664.7,197.2 1666.7,157.4 1668.3,117.7 1670.1,105.7 1673.2,105.7 1675.8,117.7 1676.8,137.5 1677.8,167.4 1679.0,197.2 1680.0,237.0 1681.0,276.8 1681.8,320.1 1683.6,357.9 1685.2,417.5 1686.2,477.2 1687.6,536.9 1688.2,558.2 1691.1,617.9 1694.1,677.5 1697.1,717.3 1699.1,757.1 1699.8,788.0 1702.4,817.9 1705.2,847.7 1707.2,877.5 1709.2,907.4 1711.2,931.2 1715.7,951.1 1718.7,971.0 1721.1,990.9 1723.7,1002.9 1727.7,1014.8 1729.7,1032.7 1731.0,1046.6 1732.1,1059.1 1734.5,1078.0 1738.5,1097.9 1740.9,1117.8 1743.5,1137.7 1746.4,1157.5 1748.4,1173.5 1750.4,1187.4 1756.4,1190.4 1762.4,1197.3 1765.3,1209.3 1768.3,1221.2 1774.3,1222.2 1777.3,1233.1 1782.2,1237.1 1789.2,1236.1 1793.2,1247.1 1798.2,1253.0 1806.1,1259.0 1812.1,1263.0 1818.1,1266.9 1823.0,1259.0 1828.0,1257.0 1832.0,1262.0 1837.9,1259.0 1843.9,1260.0 1849.9,1249.0 1852.9,1245.1 1855.6,1249.8 1858.0,1261.7 1861.1,1257.8 1863.5,1252.2 1865.9,1257.8 1867.9,1265.7 1869.9,1270.9 1874.7,1270.5 1881.0,1268.1 1885.8,1266.5 1889.0,1263.7 1891.8,1266.5 1894.9,1264.5 1898.5,1262.5 1901.7,1264.5 1904.9,1265.7 1908.1,1266.5 1911.3,1269.7 1913.6,1270.9 1916.0,1267.3 1917.6,1257.8 1919.6,1246.6"/>
<path stroke="#0000ff" d="M221.8,1249.8 253.6,1249.8 261.6,1247.6 269.6,1245.2 275.9,1243.6 281.5,1237.3 285.5,1229.3 290.2,1222.2 297.4,1217.4 304.6,1222.2 311.7,1227.7 316.5,1228.5 321.3,1227.7 329.2,1219.8 337.2,1210.2 343.6,1198.3 350.0,1184.8 351.2,1175.4 356.1,1153.5 360.1,1131.6 363.1,1109.7 365.5,1087.8 367.5,1068.0 368.7,1060.0 370.6,1018.6 373.6,978.8 375.6,939.0 377.6,899.2 379.0,859.5 380.6,819.7 381.9,789.8 383.5,760.0 388.2,666.0 389.7,633.9 391.9,604.1 393.4,574.3 395.6,544.4 397.9,517.6 399.4,505.6 402.4,500.4 405.3,499.7 407.6,504.1 410.6,511.6 413.5,516.8 417.3,518.3 420.3,511.6 423.2,499.7 425.5,484.8 427.7,469.8 429.7,454.9 431.4,440.0 432.3,428.7 435.3,408.9 439.2,383.0 443.2,359.1 447.2,347.2 451.2,340.2 455.1,349.2 458.1,369.1 461.1,394.9 463.5,418.8 466.1,448.6 468.7,478.5 470.7,501.9 471.0,514.6 473.2,537.0 475.5,559.3 478.4,581.7 480.7,604.1 483.7,626.5 486.3,648.9 488.1,666.0 495.9,760.0 498.9,809.7 501.9,849.5 504.9,883.3 508.9,919.1 513.8,949.0 518.8,978.8 523.8,1008.6 527.7,1038.5 530.5,1061.0 534.2,1075.9 538.1,1091.8 542.1,1107.7 547.1,1123.6 553.1,1139.6 560.0,1155.5 568.0,1169.4 572.8,1175.3 579.8,1179.2 587.7,1182.2 597.7,1182.8 607.6,1182.2 615.6,1177.2 621.6,1171.3 627.5,1163.3 631.5,1151.4 634.5,1135.5 637.5,1115.6 639.5,1095.7 641.4,1079.8 642.8,1068.5 646.7,1038.7 649.7,1008.9 652.7,979.0 656.7,949.2 659.7,929.3 662.1,909.4 664.0,885.5 666.6,865.6 669.2,847.7 672.0,838.8 675.6,837.4 678.6,840.8 681.6,849.7 685.5,861.7 689.5,866.6 695.1,871.6 697.5,883.5 700.4,899.5 703.4,915.4 706.4,929.3 709.4,941.2 713.4,951.2 717.4,953.2 723.3,952.8 728.3,948.2 737.2,947.6 745.2,947.2 750.2,939.2 755.1,931.3 759.1,924.3 763.1,921.3 767.1,925.3 771.1,935.3 775.0,951.2 779.0,969.1 783.0,987.0 788.0,1004.9 792.9,1016.8 798.9,1028.7 804.9,1040.7 808.5,1044.0 816.5,1044.4 822.4,1048.0 826.4,1055.9 830.4,1069.8 834.4,1085.7 838.4,1101.7 842.3,1115.6 847.3,1129.5 853.3,1143.4 860.2,1155.4 867.2,1165.3 874.2,1175.3 882.1,1183.2 890.1,1190.2 898.0,1194.2 908.0,1198.1 913.9,1202.1 921.9,1210.1 929.9,1217.0 939.8,1224.0 949.7,1230.0 959.7,1235.9 969.6,1236.9 979.6,1242.9 989.5,1245.9 999.5,1248.5 1015.4,1249.8 1039.2,1249.8 1059.1,1249.8 1067.1,1246.9 1075.0,1240.9 1081.0,1230.9 1087.0,1217.0 1091.9,1201.1 1095.9,1189.2 1099.9,1182.2 1106.9,1180.2 1113.8,1182.2 1118.8,1181.2 1123.8,1180.2 1128.7,1187.2 1132.7,1199.1 1137.7,1211.1 1143.7,1223.0 1149.6,1231.9 1156.6,1236.9 1166.5,1239.9 1174.5,1240.9 1182.4,1244.9 1194.4,1248.5 1218.2,1248.9 1248.1,1248.9 1260.0,1249.8 1279.9,1251.2 1299.8,1253.2 1319.7,1254.8 1339.6,1256.4 1359.5,1256.8 1383.3,1256.4 1399.2,1253.2 1411.2,1254.8 1429.1,1254.8 1449.0,1253.2 1468.9,1250.8 1482.8,1247.9 1492.7,1243.9 1502.7,1236.9 1510.6,1229.0 1516.6,1221.0 1521.6,1211.1 1526.5,1197.1 1529.5,1183.2 1532.5,1163.3 1535.1,1139.5 1537.5,1115.6 1539.5,1089.7 1541.5,1065.9 1545.5,1038.5 1548.5,1014.6 1551.4,994.7 1554.4,980.8 1557.4,972.8 1560.8,967.9 1564.4,973.8 1567.4,984.8 1569.3,1004.7 1571.7,1026.5 1573.7,1044.4 1575.5,1058.9 1577.3,1073.8 1580.2,1089.7 1583.2,1099.7 1588.2,1100.7 1594.2,1093.7 1602.1,1083.8 1612.1,1074.8 1615.0,1063.9 1618.0,1051.9 1621.0,1040.0 1619.1,1048.4 1623.0,1032.5 1627.0,1014.6 1630.0,994.7 1632.0,974.8 1634.0,954.9 1636.0,935.0 1638.0,915.1 1640.0,895.3 1641.3,875.4 1642.9,855.5 1644.5,835.6 1645.9,809.7 1646.9,785.9 1647.9,760.0 1649.6,739.0 1651.6,679.3 1653.2,619.7 1655.1,560.0 1656.1,538.7 1657.1,498.9 1658.5,449.2 1659.5,399.5 1660.7,349.7 1661.5,300.0 1662.3,278.6 1663.7,238.8 1665.1,199.0 1667.1,159.2 1668.5,119.5 1670.1,89.6 1672.1,63.8 1674.0,51.8 1675.4,63.8 1676.6,89.6 1678.0,129.4 1679.0,169.2 1680.0,199.0 1680.6,238.8 1681.4,278.6 1682.0,321.9 1683.4,359.7 1685.0,419.3 1686.0,479.0 1687.4,538.7 1687.4,560.0 1689.0,619.7 1690.6,679.3 1692.5,739.0 1692.7,760.0 1693.7,789.8 1695.1,819.7 1696.6,849.5 1698.2,879.3 1700.2,909.2 1702.2,939.0 1704.6,968.9 1706.6,994.7 1709.6,1018.6 1712.6,1038.5 1715.0,1058.9 1717.4,1071.8 1720.4,1089.7 1723.4,1105.6 1726.4,1121.6 1729.3,1135.5 1733.3,1149.4 1737.3,1163.3 1741.3,1179.2 1745.3,1193.2 1749.2,1205.1 1753.2,1215.0 1760.2,1223.0 1768.1,1230.9 1776.1,1237.9 1784.0,1241.9 1796.0,1244.9 1809.9,1248.9 1819.9,1250.8 1827.8,1253.2 1849.7,1254.4 1869.6,1255.8 1889.5,1257.8 1909.4,1258.8 1924.3,1258.8 M223.6,1251.6 255.4,1251.6 263.4,1249.4 271.4,1247.0 277.7,1245.4 283.3,1239.1 287.3,1231.1 292.0,1224.0 299.2,1219.2 306.4,1224.0 313.5,1229.5 318.3,1230.3 323.1,1229.5 331.0,1221.6 339.0,1212.0 345.4,1200.1 351.8,1186.6 353.0,1177.2 357.9,1155.3 361.9,1133.4 364.9,1111.5 367.3,1089.6 369.3,1069.8 370.5,1061.8 372.4,1020.4 375.4,980.6 377.4,940.8 379.4,901.0 380.8,861.3 382.4,821.5 383.7,791.6 385.3,761.8 390.0,667.8 391.5,635.7 393.7,605.9 395.2,576.1 397.4,546.2 399.7,519.4 401.2,507.4 404.2,502.2 407.1,501.5 409.4,505.9 412.4,513.4 415.3,518.6 419.1,520.1 422.1,513.4 425.0,501.5 427.3,486.6 429.5,471.6 431.5,456.7 433.2,441.8 434.1,430.5 437.1,410.7 441.0,384.8 445.0,360.9 449.0,349.0 453.0,342.0 456.9,351.0 459.9,370.9 462.9,396.7 465.3,420.6 467.9,450.4 470.5,480.3 472.5,503.7 472.8,516.4 475.0,538.8 477.3,561.1 480.2,583.5 482.5,605.9 485.5,628.3 488.1,650.7 489.9,667.8 497.7,761.8 500.7,811.5 503.7,851.3 506.7,885.1 510.7,920.9 515.6,950.8 520.6,980.6 525.6,1010.4 529.5,1040.3 532.3,1062.8 536.0,1077.7 539.9,1093.6 543.9,1109.5 548.9,1125.4 554.9,1141.4 561.8,1157.3 569.8,1171.2 574.6,1177.1 581.6,1181.0 589.5,1184.0 599.5,1184.6 609.4,1184.0 617.4,1179.0 623.4,1173.1 629.3,1165.1 633.3,1153.2 636.3,1137.3 639.3,1117.4 641.3,1097.5 643.2,1081.6 644.6,1070.3 648.5,1040.5 651.5,1010.7 654.5,980.8 658.5,951.0 661.5,931.1 663.9,911.2 665.8,887.3 668.4,867.4 671.0,849.5 673.8,840.6 677.4,839.2 680.4,842.6 683.4,851.5 687.3,863.5 691.3,868.4 696.9,873.4 699.3,885.3 702.2,901.3 705.2,917.2 708.2,931.1 711.2,943.0 715.2,953.0 719.2,955.0 725.1,954.6 730.1,950.0 739.0,949.4 747.0,949.0 752.0,941.0 756.9,933.1 760.9,926.1 764.9,923.1 768.9,927.1 772.9,937.1 776.8,953.0 780.8,970.9 784.8,988.8 789.8,1006.7 794.7,1018.6 800.7,1030.5 806.7,1042.5 810.3,1045.8 818.3,1046.2 824.2,1049.8 828.2,1057.7 832.2,1071.6 836.2,1087.5 840.2,1103.5 844.1,1117.4 849.1,1131.3 855.1,1145.2 862.0,1157.2 869.0,1167.1 876.0,1177.1 883.9,1185.0 891.9,1192.0 899.8,1196.0 909.8,1199.9 915.7,1203.9 923.7,1211.9 931.7,1218.8 941.6,1225.8 951.5,1231.8 961.5,1237.7 971.4,1238.7 981.4,1244.7 991.3,1247.7 1001.3,1250.3 1017.2,1251.6 1041.0,1251.6 1060.9,1251.6 1068.9,1248.7 1076.8,1242.7 1082.8,1232.7 1088.8,1218.8 1093.7,1202.9 1097.7,1191.0 1101.7,1184.0 1108.7,1182.0 1115.6,1184.0 1120.6,1183.0 1125.6,1182.0 1130.5,1189.0 1134.5,1200.9 1139.5,1212.9 1145.5,1224.8 1151.4,1233.7 1158.4,1238.7 1168.3,1241.7 1176.3,1242.7 1184.2,1246.7 1196.2,1250.3 1220.0,1250.7 1249.9,1250.7 1261.8,1251.6 1281.7,1253.0 1301.6,1255.0 1321.5,1256.6 1341.4,1258.2 1361.3,1258.6 1385.1,1258.2 1401.0,1255.0 1413.0,1256.6 1430.9,1256.6 1450.8,1255.0 1470.7,1252.6 1484.6,1249.7 1494.5,1245.7 1504.5,1238.7 1512.4,1230.8 1518.4,1222.8 1523.4,1212.9 1528.3,1198.9 1531.3,1185.0 1534.3,1165.1 1536.9,1141.3 1539.3,1117.4 1541.3,1091.5 1543.3,1067.7 1547.3,1040.3 1550.3,1016.4 1553.2,996.5 1556.2,982.6 1559.2,974.6 1562.6,969.7 1566.2,975.6 1569.2,986.6 1571.1,1006.5 1573.5,1028.3 1575.5,1046.2 1577.3,1060.7 1579.1,1075.6 1582.0,1091.5 1585.0,1101.5 1590.0,1102.5 1596.0,1095.5 1603.9,1085.6 1613.9,1076.6 1616.8,1065.7 1619.8,1053.7 1622.8,1041.8 1620.9,1050.2 1624.8,1034.3 1628.8,1016.4 1631.8,996.5 1633.8,976.6 1635.8,956.7 1637.8,936.8 1639.8,916.9 1641.8,897.1 1643.1,877.2 1644.7,857.3 1646.3,837.4 1647.7,811.5 1648.7,787.7 1649.7,761.8 1651.4,740.8 1653.4,681.1 1655.0,621.5 1656.9,561.8 1657.9,540.5 1658.9,500.7 1660.3,451.0 1661.3,401.3 1662.5,351.5 1663.3,301.8 1664.1,280.4 1665.5,240.6 1666.9,200.8 1668.9,161.0 1670.3,121.3 1671.9,91.4 1673.9,65.6 1675.8,53.6 1677.2,65.6 1678.4,91.4 1679.8,131.2 1680.8,171.0 1681.8,200.8 1682.4,240.6 1683.2,280.4 1683.8,323.7 1685.2,361.5 1686.8,421.1 1687.8,480.8 1689.2,540.5 1689.2,561.8 1690.8,621.5 1692.4,681.1 1694.3,740.8 1694.5,761.8 1695.5,791.6 1696.9,821.5 1698.4,851.3 1700.0,881.1 1702.0,911.0 1704.0,940.8 1706.4,970.7 1708.4,996.5 1711.4,1020.4 1714.4,1040.3 1716.8,1060.7 1719.2,1073.6 1722.2,1091.5 1725.2,1107.4 1728.2,1123.4 1731.1,1137.3 1735.1,1151.2 1739.1,1165.1 1743.1,1181.0 1747.1,1195.0 1751.0,1206.9 1755.0,1216.8 1762.0,1224.8 1769.9,1232.7 1777.9,1239.7 1785.8,1243.7 1797.8,1246.7 1811.7,1250.7 1821.7,1252.6 1829.6,1255.0 1851.5,1256.2 1871.4,1257.6 1891.3,1259.6 1911.2,1260.6 1926.1,1260.6 M223.6,1248.0 255.4,1248.0 263.4,1245.8 271.4,1243.4 277.7,1241.8 283.3,1235.5 287.3,1227.5 292.0,1220.4 299.2,1215.6 306.4,1220.4 313.5,1225.9 318.3,1226.7 323.1,1225.9 331.0,1218.0 339.0,1208.4 345.4,1196.5 351.8,1183.0 353.0,1173.6 357.9,1151.7 361.9,1129.8 364.9,1107.9 367.3,1086.0 369.3,1066.2 370.5,1058.2 372.4,1016.8 375.4,977.0 377.4,937.2 379.4,897.4 380.8,857.7 382.4,817.9 383.7,788.0 385.3,758.2 390.0,664.2 391.5,632.1 393.7,602.3 395.2,572.5 397.4,542.6 399.7,515.8 401.2,503.8 404.2,498.6 407.1,497.9 409.4,502.3 412.4,509.8 415.3,515.0 419.1,516.5 422.1,509.8 425.0,497.9 427.3,483.0 429.5,468.0 431.5,453.1 433.2,438.2 434.1,426.9 437.1,407.1 441.0,381.2 445.0,357.3 449.0,345.4 453.0,338.4 456.9,347.4 459.9,367.3 462.9,393.1 465.3,417.0 467.9,446.8 470.5,476.7 472.5,500.1 472.8,512.8 475.0,535.2 477.3,557.5 480.2,579.9 482.5,602.3 485.5,624.7 488.1,647.1 489.9,664.2 497.7,758.2 500.7,807.9 503.7,847.7 506.7,881.5 510.7,917.3 515.6,947.2 520.6,977.0 525.6,1006.8 529.5,1036.7 532.3,1059.2 536.0,1074.1 539.9,1090.0 543.9,1105.9 548.9,1121.8 554.9,1137.8 561.8,1153.7 569.8,1167.6 574.6,1173.5 581.6,1177.4 589.5,1180.4 599.5,1181.0 609.4,1180.4 617.4,1175.4 623.4,1169.5 629.3,1161.5 633.3,1149.6 636.3,1133.7 639.3,1113.8 641.3,1093.9 643.2,1078.0 644.6,1066.7 648.5,1036.9 651.5,1007.1 654.5,977.2 658.5,947.4 661.5,927.5 663.9,907.6 665.8,883.7 668.4,863.8 671.0,845.9 673.8,837.0 677.4,835.6 680.4,839.0 683.4,847.9 687.3,859.9 691.3,864.8 696.9,869.8 699.3,881.7 702.2,897.7 705.2,913.6 708.2,927.5 711.2,939.4 715.2,949.4 719.2,951.4 725.1,951.0 730.1,946.4 739.0,945.8 747.0,945.4 752.0,937.4 756.9,929.5 760.9,922.5 764.9,919.5 768.9,923.5 772.9,933.5 776.8,949.4 780.8,967.3 784.8,985.2 789.8,1003.1 794.7,1015.0 800.7,1026.9 806.7,1038.9 810.3,1042.2 818.3,1042.6 824.2,1046.2 828.2,1054.1 832.2,1068.0 836.2,1083.9 840.2,1099.9 844.1,1113.8 849.1,1127.7 855.1,1141.6 862.0,1153.6 869.0,1163.5 876.0,1173.5 883.9,1181.4 891.9,1188.4 899.8,1192.4 909.8,1196.3 915.7,1200.3 923.7,1208.3 931.7,1215.2 941.6,1222.2 951.5,1228.2 961.5,1234.1 971.4,1235.1 981.4,1241.1 991.3,1244.1 1001.3,1246.7 1017.2,1248.0 1041.0,1248.0 1060.9,1248.0 1068.9,1245.1 1076.8,1239.1 1082.8,1229.1 1088.8,1215.2 1093.7,1199.3 1097.7,1187.4 1101.7,1180.4 1108.7,1178.4 1115.6,1180.4 1120.6,1179.4 1125.6,1178.4 1130.5,1185.4 1134.5,1197.3 1139.5,1209.3 1145.5,1221.2 1151.4,1230.1 1158.4,1235.1 1168.3,1238.1 1176.3,1239.1 1184.2,1243.1 1196.2,1246.7 1220.0,1247.1 1249.9,1247.1 1261.8,1248.0 1281.7,1249.4 1301.6,1251.4 1321.5,1253.0 1341.4,1254.6 1361.3,1255.0 1385.1,1254.6 1401.0,1251.4 1413.0,1253.0 1430.9,1253.0 1450.8,1251.4 1470.7,1249.0 1484.6,1246.1 1494.5,1242.1 1504.5,1235.1 1512.4,1227.2 1518.4,1219.2 1523.4,1209.3 1528.3,1195.3 1531.3,1181.4 1534.3,1161.5 1536.9,1137.7 1539.3,1113.8 1541.3,1087.9 1543.3,1064.1 1547.3,1036.7 1550.3,1012.8 1553.2,992.9 1556.2,979.0 1559.2,971.0 1562.6,966.1 1566.2,972.0 1569.2,983.0 1571.1,1002.9 1573.5,1024.7 1575.5,1042.6 1577.3,1057.1 1579.1,1072.0 1582.0,1087.9 1585.0,1097.9 1590.0,1098.9 1596.0,1091.9 1603.9,1082.0 1613.9,1073.0 1616.8,1062.1 1619.8,1050.1 1622.8,1038.2 1620.9,1046.6 1624.8,1030.7 1628.8,1012.8 1631.8,992.9 1633.8,973.0 1635.8,953.1 1637.8,933.2 1639.8,913.3 1641.8,893.5 1643.1,873.6 1644.7,853.7 1646.3,833.8 1647.7,807.9 1648.7,784.1 1649.7,758.2 1651.4,737.2 1653.4,677.5 1655.0,617.9 1656.9,558.2 1657.9,536.9 1658.9,497.1 1660.3,447.4 1661.3,397.7 1662.5,347.9 1663.3,298.2 1664.1,276.8 1665.5,237.0 1666.9,197.2 1668.9,157.4 1670.3,117.7 1671.9,87.8 1673.9,62.0 1675.8,50.0 1677.2,62.0 1678.4,87.8 1679.8,127.6 1680.8,167.4 1681.8,197.2 1682.4,237.0 1683.2,276.8 1683.8,320.1 1685.2,357.9 1686.8,417.5 1687.8,477.2 1689.2,536.9 1689.2,558.2 1690.8,617.9 1692.4,677.5 1694.3,737.2 1694.5,758.2 1695.5,788.0 1696.9,817.9 1698.4,847.7 1700.0,877.5 1702.0,907.4 1704.0,937.2 1706.4,967.1 1708.4,992.9 1711.4,1016.8 1714.4,1036.7 1716.8,1057.1 1719.2,1070.0 1722.2,1087.9 1725.2,1103.8 1728.2,1119.8 1731.1,1133.7 1735.1,1147.6 1739.1,1161.5 1743.1,1177.4 1747.1,1191.4 1751.0,1203.3 1755.0,1213.2 1762.0,1221.2 1769.9,1229.1 1777.9,1236.1 1785.8,1240.1 1797.8,1243.1 1811.7,1247.1 1821.7,1249.0 1829.6,1251.4 1851.5,1252.6 1871.4,1254.0 1891.3,1256.0 1911.2,1257.0 1926.1,1257.0 M220.0,1251.6 251.8,1251.6 259.8,1249.4 267.8,1247.0 274.1,1245.4 279.7,1239.1 283.7,1231.1 288.4,1224.0 295.6,1219.2 302.8,1224.0 309.9,1229.5 314.7,1230.3 319.5,1229.5 327.4,1221.6 335.4,1212.0 341.8,1200.1 348.2,1186.6 349.4,1177.2 354.3,1155.3 358.3,1133.4 361.3,1111.5 363.7,1089.6 365.7,1069.8 366.9,1061.8 368.8,1020.4 371.8,980.6 373.8,940.8 375.8,901.0 377.2,861.3 378.8,821.5 380.1,791.6 381.7,761.8 386.4,667.8 387.9,635.7 390.1,605.9 391.6,576.1 393.8,546.2 396.1,519.4 397.6,507.4 400.6,502.2 403.5,501.5 405.8,505.9 408.8,513.4 411.7,518.6 415.5,520.1 418.5,513.4 421.4,501.5 423.7,486.6 425.9,471.6 427.9,456.7 429.6,441.8 430.5,430.5 433.5,410.7 437.4,384.8 441.4,360.9 445.4,349.0 449.4,342.0 453.3,351.0 456.3,370.9 459.3,396.7 461.7,420.6 464.3,450.4 466.9,480.3 468.9,503.7 469.2,516.4 471.4,538.8 473.7,561.1 476.6,583.5 478.9,605.9 481.9,628.3 484.5,650.7 486.3,667.8 494.1,761.8 497.1,811.5 500.1,851.3 503.1,885.1 507.1,920.9 512.0,950.8 517.0,980.6 522.0,1010.4 525.9,1040.3 528.7,1062.8 532.4,1077.7 536.3,1093.6 540.3,1109.5 545.3,1125.4 551.3,1141.4 558.2,1157.3 566.2,1171.2 571.0,1177.1 578.0,1181.0 585.9,1184.0 595.9,1184.6 605.8,1184.0 613.8,1179.0 619.8,1173.1 625.7,1165.1 629.7,1153.2 632.7,1137.3 635.7,1117.4 637.7,1097.5 639.6,1081.6 641.0,1070.3 644.9,1040.5 647.9,1010.7 650.9,980.8 654.9,951.0 657.9,931.1 660.3,911.2 662.2,887.3 664.8,867.4 667.4,849.5 670.2,840.6 673.8,839.2 676.8,842.6 679.8,851.5 683.7,863.5 687.7,868.4 693.3,873.4 695.7,885.3 698.6,901.3 701.6,917.2 704.6,931.1 707.6,943.0 711.6,953.0 715.6,955.0 721.5,954.6 726.5,950.0 735.4,949.4 743.4,949.0 748.4,941.0 753.3,933.1 757.3,926.1 761.3,923.1 765.3,927.1 769.3,937.1 773.2,953.0 777.2,970.9 781.2,988.8 786.2,1006.7 791.1,1018.6 797.1,1030.5 803.1,1042.5 806.7,1045.8 814.7,1046.2 820.6,1049.8 824.6,1057.7 828.6,1071.6 832.6,1087.5 836.6,1103.5 840.5,1117.4 845.5,1131.3 851.5,1145.2 858.4,1157.2 865.4,1167.1 872.4,1177.1 880.3,1185.0 888.3,1192.0 896.2,1196.0 906.2,1199.9 912.1,1203.9 920.1,1211.9 928.1,1218.8 938.0,1225.8 947.9,1231.8 957.9,1237.7 967.8,1238.7 977.8,1244.7 987.7,1247.7 997.7,1250.3 1013.6,1251.6 1037.4,1251.6 1057.3,1251.6 1065.3,1248.7 1073.2,1242.7 1079.2,1232.7 1085.2,1218.8 1090.1,1202.9 1094.1,1191.0 1098.1,1184.0 1105.1,1182.0 1112.0,1184.0 1117.0,1183.0 1122.0,1182.0 1126.9,1189.0 1130.9,1200.9 1135.9,1212.9 1141.9,1224.8 1147.8,1233.7 1154.8,1238.7 1164.7,1241.7 1172.7,1242.7 1180.6,1246.7 1192.6,1250.3 1216.4,1250.7 1246.3,1250.7 1258.2,1251.6 1278.1,1253.0 1298.0,1255.0 1317.9,1256.6 1337.8,1258.2 1357.7,1258.6 1381.5,1258.2 1397.4,1255.0 1409.4,1256.6 1427.3,1256.6 1447.2,1255.0 1467.1,1252.6 1481.0,1249.7 1490.9,1245.7 1500.9,1238.7 1508.8,1230.8 1514.8,1222.8 1519.8,1212.9 1524.7,1198.9 1527.7,1185.0 1530.7,1165.1 1533.3,1141.3 1535.7,1117.4 1537.7,1091.5 1539.7,1067.7 1543.7,1040.3 1546.7,1016.4 1549.6,996.5 1552.6,982.6 1555.6,974.6 1559.0,969.7 1562.6,975.6 1565.6,986.6 1567.5,1006.5 1569.9,1028.3 1571.9,1046.2 1573.7,1060.7 1575.5,1075.6 1578.4,1091.5 1581.4,1101.5 1586.4,1102.5 1592.4,1095.5 1600.3,1085.6 1610.3,1076.6 1613.2,1065.7 1616.2,1053.7 1619.2,1041.8 1617.3,1050.2 1621.2,1034.3 1625.2,1016.4 1628.2,996.5 1630.2,976.6 1632.2,956.7 1634.2,936.8 1636.2,916.9 1638.2,897.1 1639.5,877.2 1641.1,857.3 1642.7,837.4 1644.1,811.5 1645.1,787.7 1646.1,761.8 1647.8,740.8 1649.8,681.1 1651.4,621.5 1653.3,561.8 1654.3,540.5 1655.3,500.7 1656.7,451.0 1657.7,401.3 1658.9,351.5 1659.7,301.8 1660.5,280.4 1661.9,240.6 1663.3,200.8 1665.3,161.0 1666.7,121.3 1668.3,91.4 1670.3,65.6 1672.2,53.6 1673.6,65.6 1674.8,91.4 1676.2,131.2 1677.2,171.0 1678.2,200.8 1678.8,240.6 1679.6,280.4 1680.2,323.7 1681.6,361.5 1683.2,421.1 1684.2,480.8 1685.6,540.5 1685.6,561.8 1687.2,621.5 1688.8,681.1 1690.7,740.8 1690.9,761.8 1691.9,791.6 1693.3,821.5 1694.8,851.3 1696.4,881.1 1698.4,911.0 1700.4,940.8 1702.8,970.7 1704.8,996.5 1707.8,1020.4 1710.8,1040.3 1713.2,1060.7 1715.6,1073.6 1718.6,1091.5 1721.6,1107.4 1724.6,1123.4 1727.5,1137.3 1731.5,1151.2 1735.5,1165.1 1739.5,1181.0 1743.5,1195.0 1747.4,1206.9 1751.4,1216.8 1758.4,1224.8 1766.3,1232.7 1774.3,1239.7 1782.2,1243.7 1794.2,1246.7 1808.1,1250.7 1818.1,1252.6 1826.0,1255.0 1847.9,1256.2 1867.8,1257.6 1887.7,1259.6 1907.6,1260.6 1922.5,1260.6 M220.0,1248.0 251.8,1248.0 259.8,1245.8 267.8,1243.4 274.1,1241.8 279.7,1235.5 283.7,1227.5 288.4,1220.4 295.6,1215.6 302.8,1220.4 309.9,1225.9 314.7,1226.7 319.5,1225.9 327.4,1218.0 335.4,1208.4 341.8,1196.5 348.2,1183.0 349.4,1173.6 354.3,1151.7 358.3,1129.8 361.3,1107.9 363.7,1086.0 365.7,1066.2 366.9,1058.2 368.8,1016.8 371.8,977.0 373.8,937.2 375.8,897.4 377.2,857.7 378.8,817.9 380.1,788.0 381.7,758.2 386.4,664.2 387.9,632.1 390.1,602.3 391.6,572.5 393.8,542.6 396.1,515.8 397.6,503.8 400.6,498.6 403.5,497.9 405.8,502.3 408.8,509.8 411.7,515.0 415.5,516.5 418.5,509.8 421.4,497.9 423.7,483.0 425.9,468.0 427.9,453.1 429.6,438.2 430.5,426.9 433.5,407.1 437.4,381.2 441.4,357.3 445.4,345.4 449.4,338.4 453.3,347.4 456.3,367.3 459.3,393.1 461.7,417.0 464.3,446.8 466.9,476.7 468.9,500.1 469.2,512.8 471.4,535.2 473.7,557.5 476.6,579.9 478.9,602.3 481.9,624.7 484.5,647.1 486.3,664.2 494.1,758.2 497.1,807.9 500.1,847.7 503.1,881.5 507.1,917.3 512.0,947.2 517.0,977.0 522.0,1006.8 525.9,1036.7 528.7,1059.2 532.4,1074.1 536.3,1090.0 540.3,1105.9 545.3,1121.8 551.3,1137.8 558.2,1153.7 566.2,1167.6 571.0,1173.5 578.0,1177.4 585.9,1180.4 595.9,1181.0 605.8,1180.4 613.8,1175.4 619.8,1169.5 625.7,1161.5 629.7,1149.6 632.7,1133.7 635.7,1113.8 637.7,1093.9 639.6,1078.0 641.0,1066.7 644.9,1036.9 647.9,1007.1 650.9,977.2 654.9,947.4 657.9,927.5 660.3,907.6 662.2,883.7 664.8,863.8 667.4,845.9 670.2,837.0 673.8,835.6 676.8,839.0 679.8,847.9 683.7,859.9 687.7,864.8 693.3,869.8 695.7,881.7 698.6,897.7 701.6,913.6 704.6,927.5 707.6,939.4 711.6,949.4 715.6,951.4 721.5,951.0 726.5,946.4 735.4,945.8 743.4,945.4 748.4,937.4 753.3,929.5 757.3,922.5 761.3,919.5 765.3,923.5 769.3,933.5 773.2,949.4 777.2,967.3 781.2,985.2 786.2,1003.1 791.1,1015.0 797.1,1026.9 803.1,1038.9 806.7,1042.2 814.7,1042.6 820.6,1046.2 824.6,1054.1 828.6,1068.0 832.6,1083.9 836.6,1099.9 840.5,1113.8 845.5,1127.7 851.5,1141.6 858.4,1153.6 865.4,1163.5 872.4,1173.5 880.3,1181.4 888.3,1188.4 896.2,1192.4 906.2,1196.3 912.1,1200.3 920.1,1208.3 928.1,1215.2 938.0,1222.2 947.9,1228.2 957.9,1234.1 967.8,1235.1 977.8,1241.1 987.7,1244.1 997.7,1246.7 1013.6,1248.0 1037.4,1248.0 1057.3,1248.0 1065.3,1245.1 1073.2,1239.1 1079.2,1229.1 1085.2,1215.2 1090.1,1199.3 1094.1,1187.4 1098.1,1180.4 1105.1,1178.4 1112.0,1180.4 1117.0,1179.4 1122.0,1178.4 1126.9,1185.4 1130.9,1197.3 1135.9,1209.3 1141.9,1221.2 1147.8,1230.1 1154.8,1235.1 1164.7,1238.1 1172.7,1239.1 1180.6,1243.1 1192.6,1246.7 1216.4,1247.1 1246.3,1247.1 1258.2,1248.0 1278.1,1249.4 1298.0,1251.4 1317.9,1253.0 1337.8,1254.6 1357.7,1255.0 1381.5,1254.6 1397.4,1251.4 1409.4,1253.0 1427.3,1253.0 1447.2,1251.4 1467.1,1249.0 1481.0,1246.1 1490.9,1242.1 1500.9,1235.1 1508.8,1227.2 1514.8,1219.2 1519.8,1209.3 1524.7,1195.3 1527.7,1181.4 1530.7,1161.5 1533.3,1137.7 1535.7,1113.8 1537.7,1087.9 1539.7,1064.1 1543.7,1036.7 1546.7,1012.8 1549.6,992.9 1552.6,979.0 1555.6,971.0 1559.0,966.1 1562.6,972.0 1565.6,983.0 1567.5,1002.9 1569.9,1024.7 1571.9,1042.6 1573.7,1057.1 1575.5,1072.0 1578.4,1087.9 1581.4,1097.9 1586.4,1098.9 1592.4,1091.9 1600.3,1082.0 1610.3,1073.0 1613.2,1062.1 1616.2,1050.1 1619.2,1038.2 1617.3,1046.6 1621.2,1030.7 1625.2,1012.8 1628.2,992.9 1630.2,973.0 1632.2,953.1 1634.2,933.2 1636.2,913.3 1638.2,893.5 1639.5,873.6 1641.1,853.7 1642.7,833.8 1644.1,807.9 1645.1,784.1 1646.1,758.2 1647.8,737.2 1649.8,677.5 1651.4,617.9 1653.3,558.2 1654.3,536.9 1655.3,497.1 1656.7,447.4 1657.7,397.7 1658.9,347.9 1659.7,298.2 1660.5,276.8 1661.9,237.0 1663.3,197.2 1665.3,157.4 1666.7,117.7 1668.3,87.8 1670.3,62.0 1672.2,50.0 1673.6,62.0 1674.8,87.8 1676.2,127.6 1677.2,167.4 1678.2,197.2 1678.8,237.0 1679.6,276.8 1680.2,320.1 1681.6,357.9 1683.2,417.5 1684.2,477.2 1685.6,536.9 1685.6,558.2 1687.2,617.9 1688.8,677.5 1690.7,737.2 1690.9,758.2 1691.9,788.0 1693.3,817.9 1694.8,847.7 1696.4,877.5 1698.4,907.4 1700.4,937.2 1702.8,967.1 1704.8,992.9 1707.8,1016.8 1710.8,1036.7 1713.2,1057.1 1715.6,1070.0 1718.6,1087.9 1721.6,1103.8 1724.6,1119.8 1727.5,1133.7 1731.5,1147.6 1735.5,1161.5 1739.5,1177.4 1743.5,1191.4 1747.4,1203.3 1751.4,1213.2 1758.4,1221.2 1766.3,1229.1 1774.3,1236.1 1782.2,1240.1 1794.2,1243.1 1808.1,1247.1 1818.1,1249.0 1826.0,1251.4 1847.9,1252.6 1867.8,1254.0 1887.7,1256.0 1907.6,1257.0 1922.5,1257.0"/>
</g>
<rect x="223.6" y="40.4" width="1697.8" height="1232.7" stroke="#000" stroke-width="3.4" fill="none"/>
<rect x="1010.7" y="166.9" width="583.4" height="212.8" fill="#fff" stroke="#000" stroke-width="3"/>
<path d="M1075.1,238.9 H1227.2" stroke="#ff0000" stroke-width="7.6" fill="none"/>
<path d="M1075.1,310.7 H1227.2" stroke="#0000ff" stroke-width="7.6" fill="none"/>
<text transform="translate(1270.2,255.6) scale(1.0214,1)" font-size="63.0" stroke-width="0.25">Ex.464nm</text>
<text transform="translate(1270.2,327.2) scale(1.0214,1)" font-size="63.0" stroke-width="0.25">Ex.394nm</text>
<text transform="scale(1.0264,1)" font-size="75.5" stroke-width="0.30"><tspan x="516.7" y="118.9">SiO</tspan><tspan x="642.1" y="145.4" font-size="52.0">2</tspan><tspan x="669.7" y="118.9">-BaF</tspan><tspan x="823.3" y="142.4" font-size="52.0">2</tspan><tspan x="848.0" y="118.9"> sol-gel glass ceramic</tspan></text>
<text transform="translate(705.8,1469.7) scale(1.0396,1)" font-size="75.5" stroke-width="0.30">Wavelength (nm)</text>
<text transform="translate(95.4,1111.9) rotate(-90) scale(1.0026,1)" font-size="77.6" stroke-width="0.31">Luminescence (arb.units)</text>
<text transform="translate(336.1,1369) scale(1.0077,1)" font-size="76" text-anchor="middle" stroke-width="0.3">580</text>
<text transform="translate(562.6,1369) scale(1.0077,1)" font-size="76" text-anchor="middle" stroke-width="0.3">600</text>
<text transform="translate(789.1,1369) scale(1.0077,1)" font-size="76" text-anchor="middle" stroke-width="0.3">620</text>
<text transform="translate(1015.7,1369) scale(1.0077,1)" font-size="76" text-anchor="middle" stroke-width="0.3">640</text>
<text transform="translate(1242.2,1369) scale(1.0077,1)" font-size="76" text-anchor="middle" stroke-width="0.3">660</text>
<text transform="translate(1468.7,1369) scale(1.0077,1)" font-size="76" text-anchor="middle" stroke-width="0.3">680</text>
<text transform="translate(1695.2,1369) scale(1.0077,1)" font-size="76" text-anchor="middle" stroke-width="0.3">700</text>
<text transform="translate(1921.7,1369) scale(1.0077,1)" font-size="76" text-anchor="middle" stroke-width="0.3">720</text>
<text class="it" stroke-width="0.2"><tspan x="247.3" y="145.1" font-size="43.2">5</tspan><tspan x="270.2" y="179.5" font-size="64.1">D</tspan><tspan x="317.3" y="215.3" font-size="43.2">0</tspan><tspan class="sym" x="337.0" y="189.6" font-size="76.5">→</tspan></text>
<text class="it" stroke-width="0.2"><tspan x="309.1" y="290.5" font-size="43.2">7</tspan><tspan x="332.1" y="325.8" font-size="64.1">F</tspan><tspan x="374.2" y="361.6" font-size="43.2">1</tspan></text>
<text class="it" stroke-width="0.2"><tspan x="541.7" y="304.5" font-size="43.2">7</tspan><tspan x="564.6" y="340.1" font-size="64.1">F</tspan><tspan x="606.2" y="374.3" font-size="43.2">2</tspan></text>
<text class="it" stroke-width="0.2"><tspan x="248.4" y="1069.2" font-size="43.2">7</tspan><tspan x="272.9" y="1104.9" font-size="64.1">F</tspan><tspan x="311.7" y="1138.4" font-size="43.2">0</tspan></text>
<text class="it" stroke-width="0.2"><tspan x="1073.0" y="1051.5" font-size="43.2">7</tspan><tspan x="1096.0" y="1085.3" font-size="64.1">F</tspan><tspan x="1136.4" y="1120.9" font-size="43.2">3</tspan></text>
<text class="it" stroke-width="0.2"><tspan x="1697.8" y="122.4" font-size="43.2">7</tspan><tspan x="1720.7" y="158.2" font-size="64.1">F</tspan><tspan x="1761.6" y="193.3" font-size="43.2">4</tspan></text>
</svg></body></html>
